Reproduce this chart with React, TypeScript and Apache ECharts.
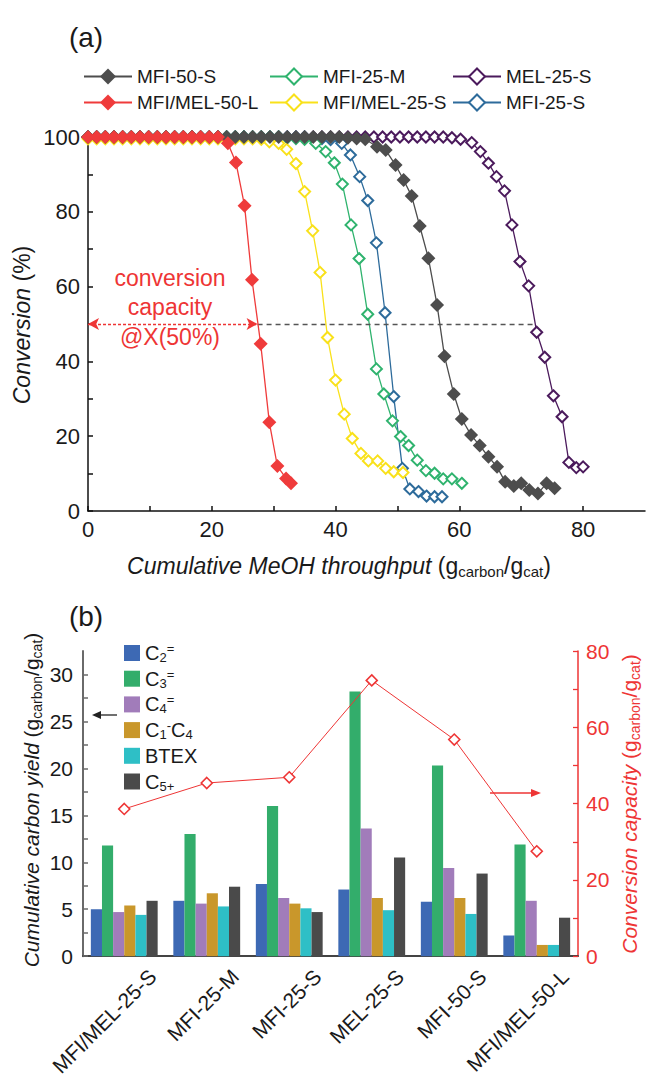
import React, { useEffect, useRef } from 'react';
import * as echarts from 'echarts';

const FONT = '"Liberation Sans", Arial, Helvetica, sans-serif';
const TXT = '#1a1a1a';
const RED = '#ee3535';

// ---------------- Panel (a): conversion vs cumulative MeOH throughput ----------------
const mfi50S_x = [0, 1.4, 2.8, 4.2, 5.6, 7.0, 8.4, 9.8, 11.2, 12.6, 14.0, 15.4, 16.8, 18.2, 19.6, 21.0, 22.4, 23.8, 25.2, 26.6, 28.0, 29.4, 30.8, 32.2, 33.6, 35.0, 36.4, 37.8, 39.2, 40.6, 42.0, 43.4, 44.8, 46.7, 48.1, 49.7, 51.0, 52.3, 53.6, 55.0, 56.4, 57.6, 59.1, 60.4, 61.9, 63.3, 64.7, 66.1, 67.4, 68.8, 70.0, 71.3, 72.7, 74.1, 75.4];
const mfi50S_y = [100, 100, 100, 100, 100, 100, 100, 100, 100, 100, 100, 100, 100, 100, 100, 100, 100, 100, 100, 100, 100, 100, 100, 100, 100, 100, 100, 100, 100, 100, 99.8, 99.6, 99.4, 97.4, 96.5, 92.5, 88.5, 84.2, 76.2, 67.6, 55.1, 41.4, 31.3, 24.6, 20.3, 17.5, 14.5, 11.8, 7.8, 6.7, 7.4, 5.6, 4.7, 7.4, 6.1];

const mfiMel50L_x = [0, 1.4, 2.8, 4.2, 5.6, 7.0, 8.4, 9.8, 11.2, 12.6, 14.0, 15.4, 16.8, 18.2, 19.6, 21.0, 22.6, 23.9, 25.3, 26.5, 27.9, 29.3, 30.6, 32.0, 32.8];
const mfiMel50L_y = [100, 100, 100, 100, 100, 100, 100, 100, 100, 100, 100, 100, 100, 100, 100, 100, 98.3, 93.2, 81.6, 61.8, 44.7, 23.7, 12.0, 8.7, 7.4];

const mfi25M_x = [0, 1.4, 2.8, 4.2, 5.6, 7.0, 8.4, 9.8, 11.2, 12.6, 14.0, 15.4, 16.8, 18.2, 19.6, 21.0, 22.4, 23.8, 25.2, 26.6, 28.0, 29.4, 30.8, 32.2, 33.6, 35.0, 36.8, 38.4, 39.8, 41.1, 42.5, 43.8, 45.2, 46.6, 47.8, 49.2, 50.5, 51.8, 53.2, 54.6, 56.0, 57.4, 58.8, 60.4];
const mfi25M_y = [100, 100, 100, 100, 100, 100, 100, 100, 100, 100, 100, 100, 100, 100, 100, 100, 100, 100, 100, 100, 100, 100, 100, 99.8, 99.6, 99.4, 98.3, 96.1, 93.1, 87.4, 76.5, 67.5, 52.6, 38.0, 31.3, 24.1, 19.9, 17.5, 13.6, 10.8, 10.1, 8.6, 8.6, 7.4];

const mfiMel25S_x = [0, 1.4, 2.8, 4.2, 5.6, 7.0, 8.4, 9.8, 11.2, 12.6, 14.0, 15.4, 16.8, 18.2, 19.6, 21.0, 22.4, 23.8, 25.2, 26.6, 28.0, 29.3, 30.8, 32.1, 33.6, 35.0, 36.3, 37.5, 38.7, 40.0, 41.4, 42.7, 44.1, 45.3, 46.8, 48.1, 49.4, 50.9];
const mfiMel25S_y = [99.5, 99.5, 99.5, 99.5, 99.5, 99.5, 99.5, 99.5, 99.5, 99.5, 99.5, 99.5, 99.5, 99.5, 99.5, 99.5, 99.5, 99.5, 99.5, 99.5, 99.4, 98.7, 98.3, 96.7, 92.9, 85.4, 74.9, 63.8, 46.4, 35.0, 25.9, 19.4, 15.4, 13.4, 13.4, 11.4, 10.5, 10.3];

const mel25S_x = [0, 1.4, 2.8, 4.2, 5.6, 7.0, 8.4, 9.8, 11.2, 12.6, 14.0, 15.4, 16.8, 18.2, 19.6, 21.0, 22.4, 23.8, 25.2, 26.6, 28.0, 29.4, 30.8, 32.2, 33.6, 35.0, 36.4, 37.8, 39.2, 40.6, 42.0, 43.4, 44.8, 46.2, 47.6, 49.0, 50.4, 51.8, 53.2, 54.6, 56.0, 57.4, 58.8, 60.2, 62.0, 63.4, 64.7, 66.0, 67.3, 68.5, 69.8, 71.2, 72.5, 73.8, 75.2, 76.6, 77.7, 78.9, 80.0];
const mel25S_y = [100, 100, 100, 100, 100, 100, 100, 100, 100, 100, 100, 100, 100, 100, 100, 100, 100, 100, 100, 100, 100, 100, 100, 100, 100, 100, 100, 100, 100, 100, 100, 100, 100, 100, 100, 100, 100, 100, 100, 100, 100, 100, 99.8, 99.4, 98.5, 96.1, 93.0, 89.4, 85.6, 76.5, 66.7, 60.2, 47.8, 41.1, 30.8, 25.2, 13.0, 11.6, 11.8];

const mfi25S_x = [0, 1.4, 2.8, 4.2, 5.6, 7.0, 8.4, 9.8, 11.2, 12.6, 14.0, 15.4, 16.8, 18.2, 19.6, 21.0, 22.4, 23.8, 25.2, 26.6, 28.0, 29.4, 30.8, 32.2, 33.6, 35.0, 36.4, 37.8, 39.2, 41.0, 42.4, 43.9, 45.2, 46.6, 48.0, 49.4, 50.8, 52.0, 53.4, 54.7, 56.0, 57.2];
const mfi25S_y = [100, 100, 100, 100, 100, 100, 100, 100, 100, 100, 100, 100, 100, 100, 100, 100, 100, 100, 100, 100, 100, 100, 100, 100, 100, 100, 99.8, 99.6, 99.3, 98.3, 95.2, 89.4, 83.0, 71.7, 53.0, 30.6, 11.4, 5.9, 5.2, 4.0, 3.8, 3.8];

// Conversion-capacity annotation (X = 50 %)
const capacityLevel = 50;
const capacityRedX = 27.4;
const capacityPurpleX = 72.2;

// ---------------- Panel (b): product yields ----------------
const catalysts = ['MFI/MEL-25-S', 'MFI-25-M', 'MFI-25-S', 'MEL-25-S', 'MFI-50-S', 'MFI/MEL-50-L'];
const yieldC2 = [5.0, 5.9, 7.7, 7.1, 5.8, 2.2];
const yieldC3 = [11.8, 13.0, 16.0, 28.2, 20.3, 11.9];
const yieldC4 = [4.7, 5.6, 6.2, 13.6, 9.4, 5.9];
const yieldC1C4 = [5.4, 6.7, 5.6, 6.2, 6.2, 1.2];
const yieldBTEX = [4.4, 5.3, 5.1, 4.9, 4.5, 1.2];
const yieldC5 = [5.9, 7.4, 4.7, 10.5, 8.8, 4.1];
const conversionCapacity = [38.6, 45.4, 46.9, 72.3, 56.8, 27.5];

const yieldNames = ['C2=', 'C3=', 'C4=', 'C1-C4', 'BTEX', 'C5+'];
const yieldColors = ['#3d69b4', '#33ad6b', '#a17cba', '#c9972b', '#2ebfc6', '#4a4a4a'];
const yieldLegendRich: Record<string, string> = {
  'C2=': '{n|C}{sb|2}{sp|=}',
  'C3=': '{n|C}{sb|3}{sp|=}',
  'C4=': '{n|C}{sb|4}{sp|=}',
  'C1-C4': '{n|C}{sb|1}{sp|-}{n|C}{sb|4}',
  'BTEX': '{n|BTEX}',
  'C5+': '{n|C}{sb|5+}',
};

const zip = (xs: number[], ys: number[]) => xs.map((x, i) => [x, ys[i]]);

function curve(name: string, xs: number[], ys: number[], color: string, filled: boolean, z: number) {
  return {
    type: 'line',
    name,
    xAxisIndex: 0,
    yAxisIndex: 0,
    data: zip(xs, ys),
    symbol: 'diamond',
    symbolSize: filled ? 14 : 11,
    lineStyle: { color, width: 1.3 },
    itemStyle: filled ? { color } : { color: '#ffffff', borderColor: color, borderWidth: 2 },
    clip: false,
    z,
    silent: true,
  };
}

function titleRich(size: number, color: string) {
  const subSize = Math.round(size * 0.65);
  return {
    i: { fontSize: size, fontStyle: 'italic', fontFamily: FONT, fill: color, color, lineHeight: size + 4 },
    n: { fontSize: size, fontFamily: FONT, fill: color, color, lineHeight: size + 4 },
    s: { fontSize: subSize, fontFamily: FONT, fill: color, color, lineHeight: size + 4, padding: [11, 0, 0, 0] },
  };
}

const unitTail = ' {n|(g}{s|carbon}{n|/g}{s|cat}{n|)}';

function buildOption() {
  const axisA = { color: '#111', width: 1.5 };
  const series: any[] = [
    curve('MEL-25-S', mel25S_x, mel25S_y, '#4b1a5c', false, 2),
    curve('MFI-25-S', mfi25S_x, mfi25S_y, '#2d6b9b', false, 3),
    curve('MFI-25-M', mfi25M_x, mfi25M_y, '#2fb36e', false, 4),
    curve('MFI/MEL-25-S', mfiMel25S_x, mfiMel25S_y, '#f9e11a', false, 5),
    curve('MFI-50-S', mfi50S_x, mfi50S_y, '#4d4d4d', true, 6),
    curve('MFI/MEL-50-L', mfiMel50L_x, mfiMel50L_y, '#ef3b3b', true, 7),
    {
      type: 'line', name: 'capRed', xAxisIndex: 0, yAxisIndex: 0,
      data: [[capacityRedX, capacityLevel]], showSymbol: false, lineStyle: { opacity: 0 }, silent: true, z: 8,
      markLine: {
        silent: true, animation: false, symbol: ['arrow', 'arrow'], symbolSize: [9, 11],
        label: { show: false },
        lineStyle: { color: RED, type: [3, 2], width: 1.3 },
        itemStyle: { color: RED },
        data: [[{ coord: [0, capacityLevel] }, { coord: [capacityRedX, capacityLevel] }]],
      },
    },
    {
      type: 'line', name: 'capGray', xAxisIndex: 0, yAxisIndex: 0,
      data: [[capacityPurpleX, capacityLevel]], showSymbol: false, lineStyle: { opacity: 0 }, silent: true, z: 1,
      markLine: {
        silent: true, animation: false, symbol: ['none', 'none'],
        label: { show: false },
        lineStyle: { color: '#555', type: [5, 4], width: 1.3 },
        data: [[{ coord: [capacityRedX, capacityLevel] }, { coord: [capacityPurpleX, capacityLevel] }]],
      },
    },
  ];

  yieldNames.forEach((nm, k) => {
    const vals = [yieldC2, yieldC3, yieldC4, yieldC1C4, yieldBTEX, yieldC5][k];
    series.push({
      type: 'bar', name: nm, xAxisIndex: 1, yAxisIndex: 1, data: vals,
      barGap: '0%', barCategoryGap: '19%',
      itemStyle: { color: yieldColors[k] }, silent: true, z: 2,
    });
  });
  series.push({
    type: 'line', name: 'Conversion capacity', xAxisIndex: 1, yAxisIndex: 2, data: conversionCapacity,
    symbol: 'diamond', symbolSize: 11,
    lineStyle: { color: RED, width: 1 },
    itemStyle: { color: '#ffffff', borderColor: RED, borderWidth: 1.6 },
    z: 5, silent: true, clip: false,
  });

  const legendA = (left: number, names: string[]) => ({
    orient: 'vertical', left, top: 62, data: names, selectedMode: false,
    itemWidth: 48, itemHeight: 20, itemGap: 7,
    textStyle: { fontSize: 19, color: TXT, fontFamily: FONT },
  });

  const tR = titleRich(23, TXT);
  const tB = titleRich(21, TXT);
  const tBR = titleRich(21, RED);

  return {
    animation: false,
    backgroundColor: '#ffffff',
    textStyle: { fontFamily: FONT },
    grid: [
      { left: 88, right: 1, top: 137, bottom: 568 },
      { left: 83, right: 68, top: 651, bottom: 114 },
    ],
    xAxis: [
      {
        type: 'value', gridIndex: 0, min: 0, max: 90, interval: 10,
        axisLine: { lineStyle: axisA },
        axisTick: { inside: true, length: 5, lineStyle: axisA },
        splitLine: { show: false },
        axisLabel: {
          fontSize: 22, color: TXT, margin: 7, showMaxLabel: false,
          formatter: (v: number) => (v % 20 === 0 ? String(v) : ''),
        },
      },
      {
        type: 'category', gridIndex: 1, data: catalysts,
        axisLine: { lineStyle: { color: '#444', width: 2 } },
        axisTick: { show: false },
        axisLabel: {
          interval: 0, rotate: 45, fontSize: 21, color: TXT, margin: 45,
          padding: [0, -40, 0, 0], hideOverlap: false,
        },
      },
    ],
    yAxis: [
      {
        type: 'value', gridIndex: 0, min: 0, max: 100, interval: 10,
        axisLine: { show: true, lineStyle: axisA },
        axisTick: { show: true, inside: true, length: 5, lineStyle: axisA },
        splitLine: { show: false },
        axisLabel: {
          fontSize: 22, color: TXT, margin: 8,
          formatter: (v: number) => (v % 20 === 0 ? String(v) : ''),
        },
      },
      {
        type: 'value', gridIndex: 1, min: 0, max: 32.5, interval: 2.5,
        axisLine: { show: true, lineStyle: { color: '#6a6a6a', width: 2 } },
        axisTick: { show: true, inside: true, length: 5, lineStyle: { color: '#6a6a6a', width: 1.5 } },
        splitLine: { show: false },
        axisLabel: {
          fontSize: 21, color: TXT, margin: 10, showMaxLabel: false,
          formatter: (v: number) => (v % 5 === 0 ? String(v) : ''),
        },
      },
      {
        type: 'value', gridIndex: 1, position: 'right', min: 0, max: 80, interval: 10,
        axisLine: { show: true, lineStyle: { color: RED, width: 1.5 } },
        axisTick: { show: true, inside: true, length: 5, lineStyle: { color: RED, width: 1.3 } },
        splitLine: { show: false },
        axisLabel: {
          fontSize: 21, color: RED, margin: 8,
          formatter: (v: number) => (v % 20 === 0 ? String(v) : ''),
        },
      },
    ],
    legend: [
      legendA(78, ['MFI-50-S', 'MFI/MEL-50-L']),
      legendA(264, ['MFI-25-M', 'MFI/MEL-25-S']),
      legendA(447, ['MEL-25-S', 'MFI-25-S']),
      {
        orient: 'vertical', left: 119, top: 637, data: yieldNames, selectedMode: false,
        icon: 'rect', itemWidth: 16, itemHeight: 16, itemGap: 3.7,
        formatter: (name: string) => yieldLegendRich[name] || name,
        textStyle: {
          fontSize: 20, color: TXT, fontFamily: FONT, lineHeight: 22,
          rich: {
            n: { fontSize: 20, color: TXT, fontFamily: FONT, lineHeight: 22 },
            sb: { fontSize: 13, color: TXT, fontFamily: FONT, lineHeight: 22, padding: [9, 0, 0, 0] },
            sp: { fontSize: 13, color: TXT, fontFamily: FONT, lineHeight: 22, padding: [0, 0, 9, 0] },
          },
        },
      },
    ],
    graphic: [
      { type: 'text', x: 86, y: 37, silent: true, style: { text: '(a)', fontSize: 28, fontFamily: FONT, fill: TXT, align: 'center', verticalAlign: 'middle' } },
      { type: 'text', x: 86, y: 616, silent: true, style: { text: '(b)', fontSize: 28, fontFamily: FONT, fill: TXT, align: 'center', verticalAlign: 'middle' } },
      {
        type: 'text', x: 170, y: 307, silent: true, z: 20,
        style: { text: 'conversion\ncapacity\n@X(50%)', fontSize: 23, lineHeight: 29.5, fontFamily: FONT, fill: RED, align: 'center', verticalAlign: 'middle' },
      },
      {
        type: 'text', x: 339, y: 566, silent: true,
        style: { text: '{i|Cumulative MeOH throughput}' + unitTail, rich: tR, fontSize: 23, fontFamily: FONT, fill: TXT, align: 'center', verticalAlign: 'middle' },
      },
      {
        type: 'text', x: 22, y: 325, rotation: Math.PI / 2, silent: true,
        style: { text: '{i|Conversion} {n|(%)}', rich: tR, fontSize: 23, fontFamily: FONT, fill: TXT, align: 'center', verticalAlign: 'middle' },
      },
      {
        type: 'text', x: 31, y: 800, rotation: Math.PI / 2, silent: true,
        style: { text: '{i|Cumulative carbon yield}' + unitTail, rich: tB, fontSize: 21, fontFamily: FONT, fill: TXT, align: 'center', verticalAlign: 'middle' },
      },
      {
        type: 'text', x: 629, y: 804, rotation: Math.PI / 2, silent: true,
        style: { text: '{i|Conversion capacity}' + unitTail, rich: tBR, fontSize: 21, fontFamily: FONT, fill: RED, align: 'center', verticalAlign: 'middle' },
      },
      { type: 'line', silent: true, shape: { x1: 117, y1: 715, x2: 98, y2: 715 }, style: { stroke: '#222', lineWidth: 1.3 } },
      { type: 'polygon', silent: true, shape: { points: [[92, 715], [101, 711], [101, 719]] }, style: { fill: '#222' } },
      { type: 'line', silent: true, shape: { x1: 490, y1: 793, x2: 532, y2: 793 }, style: { stroke: RED, lineWidth: 1.3 } },
      { type: 'polygon', silent: true, shape: { points: [[541, 793], [531, 789], [531, 797]] }, style: { fill: RED } },
    ],
    series,
  };
}

export default function App() {
  const ref = useRef<HTMLDivElement>(null);
  useEffect(() => {
    if (!ref.current) return;
    const chart = echarts.init(ref.current, null, { renderer: 'svg' });
    chart.setOption(buildOption() as any);
    return () => chart.dispose();
  }, []);
  return (
    <div
      ref={ref}
      style={{ position: 'absolute', left: 0, top: 0, width: 646, height: 1079, background: '#ffffff' }}
    />
  );
}
